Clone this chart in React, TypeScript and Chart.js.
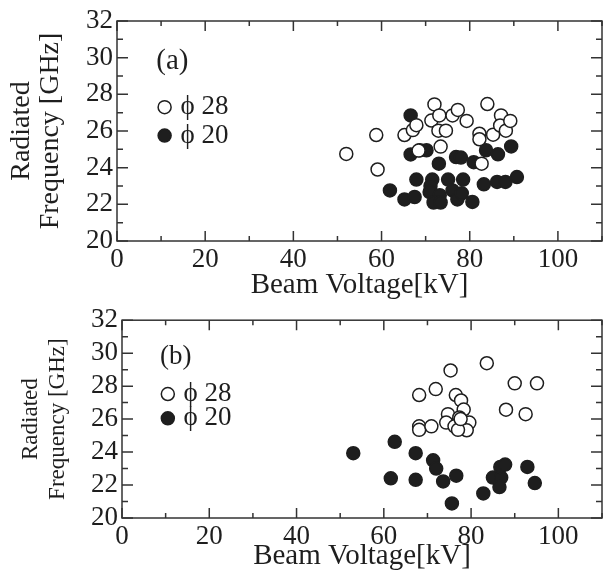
import { useEffect, useRef } from 'react';
import { Chart, registerables } from 'chart.js';

Chart.register(...registerables);

// ---- data ----
// Panel (a)
const phi28A_x = [52.0, 58.8, 59.1, 65.2, 67.1, 67.9, 68.4, 71.3, 72.0, 73.1, 72.9, 73.4, 74.6, 76.1, 77.3, 79.3, 82.2, 82.2, 82.7, 84.0, 85.3, 87.1, 86.9, 88.2, 89.2];
const phi28A_y = [24.75, 25.78, 23.9, 25.78, 26.05, 26.32, 24.93, 26.57, 27.45, 26.85, 26.02, 25.15, 26.02, 26.85, 27.15, 26.55, 25.85, 25.55, 24.22, 27.47, 25.8, 26.85, 26.3, 26.02, 26.55];
const phi20A_x = [66.6, 66.6, 68.7, 70.2, 73.0, 76.9, 78.0, 80.9, 83.7, 86.4, 89.4, 67.9, 71.5, 71.1, 75.1, 78.5, 83.2, 86.2, 88.1, 90.7, 61.9, 65.2, 67.5, 70.9, 73.2, 71.8, 73.4, 76.1, 77.2, 78.2, 80.6];
const phi20A_y = [26.85, 24.72, 24.95, 24.95, 24.22, 24.58, 24.55, 24.3, 24.95, 24.73, 25.16, 23.35, 23.35, 23.0, 23.35, 23.35, 23.09, 23.22, 23.22, 23.49, 22.76, 22.27, 22.4, 22.67, 22.5, 22.1, 22.1, 22.76, 22.27, 22.6, 22.13];
// Panel (b)
const phi28B_x = [75.3, 83.6, 90.0, 95.1, 71.9, 68.1, 76.5, 77.7, 78.3, 88.0, 92.5, 74.7, 77.3, 74.3, 79.6, 76.2, 79.0, 77.0, 68.1, 68.1, 70.9, 77.6];
const phi28B_y = [28.95, 29.39, 28.17, 28.17, 27.82, 27.46, 27.46, 27.13, 26.58, 26.57, 26.3, 26.3, 26.1, 25.79, 25.79, 25.56, 25.32, 25.35, 25.56, 25.35, 25.56, 26.0];
const phi20B_x = [53.0, 62.5, 67.3, 71.3, 72.0, 61.6, 67.3, 73.6, 76.6, 75.6, 82.8, 85.0, 86.9, 86.5, 86.7, 87.8, 92.9, 94.6];
const phi20B_y = [23.93, 24.62, 23.93, 23.5, 23.0, 22.41, 22.32, 22.22, 22.57, 20.88, 21.49, 22.45, 22.45, 21.88, 23.1, 23.24, 23.1, 22.12];

const seriesNames = ['ϕ 28', 'ϕ 20'];
const panelLabels = ['(a)', '(b)'];
const xTitle = 'Beam Voltage[kV]';
const yTitle = ['Radiated', 'Frequency [GHz]'];
const xMin = 0, xMax = 110, xStep = 20, xMinor = 10;
const yMin = 20, yMax = 32, yStep = 2, yMinor = 1;

const SERIF = '"Liberation Serif", "Times New Roman", serif';
const INK = '#1e1e1e';

const zip = (xs: number[], ys: number[]) => xs.map((x, i) => ({ x, y: ys[i] }));

const framePlugin = {
  id: 'frame',
  afterDraw(chart: any) {
    const { ctx, chartArea, scales } = chart;
    const { left, top, right, bottom } = chartArea;
    const x = scales.x, y = scales.y;
    ctx.save();
    ctx.strokeStyle = '#333';
    ctx.lineWidth = 1.5;
    ctx.strokeRect(left, top, right - left, bottom - top);
    ctx.beginPath();
    for (let v = xMin; v <= xMax; v += xMinor) {
      const px = x.getPixelForValue(v);
      const len = v % xStep === 0 ? 10 : 5;
      ctx.moveTo(px, bottom); ctx.lineTo(px, bottom - len);
      ctx.moveTo(px, top); ctx.lineTo(px, top + len);
    }
    for (let v = yMin; v <= yMax; v += yMinor) {
      const py = y.getPixelForValue(v);
      const len = v % yStep === 0 ? 11 : 6;
      ctx.moveTo(left, py); ctx.lineTo(left + len, py);
      ctx.moveTo(right, py); ctx.lineTo(right - len, py);
    }
    ctx.stroke();
    ctx.restore();
  },
};

const notePlugin = {
  id: 'note',
  afterDatasetsDraw(chart: any, _args: any, opts: any) {
    const { ctx, scales } = chart;
    const x = scales.x, y = scales.y;
    ctx.save();
    ctx.fillStyle = INK;
    ctx.textBaseline = 'middle';
    ctx.textAlign = 'left';
    ctx.font = `${opts.labelSize}px ${SERIF}`;
    ctx.fillText(opts.label, x.getPixelForValue(opts.labelAt[0]), y.getPixelForValue(opts.labelAt[1]));
    ctx.font = `${opts.legendSize}px ${SERIF}`;
    opts.legend.forEach((item: any) => {
      const cx = x.getPixelForValue(item.at[0]);
      const cy = y.getPixelForValue(item.at[1]);
      ctx.beginPath();
      ctx.arc(cx, cy, 6.5, 0, Math.PI * 2);
      ctx.fillStyle = item.filled ? INK : '#fff';
      ctx.fill();
      ctx.lineWidth = 1.5;
      ctx.strokeStyle = INK;
      ctx.stroke();
      ctx.fillStyle = INK;
      ctx.fillText(item.text, x.getPixelForValue(item.textX), cy);
    });
    ctx.restore();
  },
};

function makeConfig(p: any): any {
  return {
    type: 'scatter',
    data: {
      datasets: [
        {
          label: seriesNames[0],
          data: zip(p.ox, p.oy),
          backgroundColor: '#fff',
          borderColor: INK,
          borderWidth: 1.5,
          pointRadius: 6.5,
        },
        {
          label: seriesNames[1],
          data: zip(p.fx, p.fy),
          backgroundColor: INK,
          borderColor: INK,
          borderWidth: 1.5,
          pointRadius: 6.5,
        },
      ],
    },
    options: {
      animation: false,
      responsive: false,
      maintainAspectRatio: false,
      events: [],
      layout: { padding: { top: p.padTop, right: p.padRight, left: 0, bottom: 0 } },
      plugins: {
        legend: { display: false },
        tooltip: { enabled: false },
        note: p.note,
      },
      scales: {
        x: {
          type: 'linear',
          min: xMin,
          max: xMax,
          grid: { display: false, drawTicks: false },
          border: { display: false },
          ticks: {
            stepSize: xStep,
            includeBounds: false,
            autoSkip: false,
            maxRotation: 0,
            padding: p.xTickPad,
            color: INK,
            font: { family: SERIF, size: p.tickSize },
          },
          title: {
            display: true,
            text: xTitle,
            color: INK,
            padding: 0,
            font: { family: SERIF, size: p.xTitleSize, lineHeight: 1 },
          },
          afterFit: (s: any) => { s.height = p.xAxisH; },
        },
        y: {
          type: 'linear',
          min: yMin,
          max: yMax,
          grid: { display: false, drawTicks: false },
          border: { display: false },
          ticks: {
            stepSize: yStep,
            autoSkip: false,
            padding: 4,
            color: INK,
            font: { family: SERIF, size: p.tickSize },
          },
          title: {
            display: true,
            text: yTitle,
            color: INK,
            padding: { top: p.yTitlePad, bottom: 0 },
            font: { family: SERIF, size: p.yTitleSize, lineHeight: p.yTitleLH },
          },
          afterFit: (s: any) => { s.width = p.yAxisW; },
        },
      },
    },
    plugins: [framePlugin, notePlugin],
  };
}

const panelA = {
  ox: phi28A_x, oy: phi28A_y, fx: phi20A_x, fy: phi20A_y,
  padTop: 21, padRight: 2, xAxisH: 59, yAxisW: 117,
  tickSize: 27, xTickPad: 3, xTitleSize: 29, yTitleSize: 28, yTitleLH: 1.05, yTitlePad: 7,
  note: {
    label: panelLabels[0], labelAt: [8.9, 29.8], labelSize: 29, legendSize: 27,
    legend: [
      { at: [10.8, 27.3], text: seriesNames[0], textX: 14.4, filled: false },
      { at: [10.8, 25.75], text: seriesNames[1], textX: 14.4, filled: true },
    ],
  },
};

const panelB = {
  ox: phi28B_x, oy: phi28B_y, fx: phi20B_x, fy: phi20B_y,
  padTop: 14, padRight: 1, xAxisH: 53, yAxisW: 122,
  tickSize: 27, xTickPad: 3, xTitleSize: 29, yTitleSize: 23, yTitleLH: 1.17, yTitlePad: 17.5,
  note: {
    label: panelLabels[1], labelAt: [8.7, 29.8], labelSize: 27, legendSize: 27,
    legend: [
      { at: [10.5, 27.52], text: seriesNames[0], textX: 14.1, filled: false },
      { at: [10.5, 26.05], text: seriesNames[1], textX: 14.1, filled: true },
    ],
  },
};

function Panel({ cfg, top, height }: { cfg: any; top: number; height: number }) {
  const ref = useRef<HTMLCanvasElement | null>(null);
  useEffect(() => {
    if (!ref.current) return;
    const chart = new Chart(ref.current, makeConfig(cfg));
    return () => chart.destroy();
  }, [cfg]);
  return (
    <canvas
      ref={ref}
      width={610}
      height={height}
      style={{ position: 'absolute', left: 0, top, width: 610, height }}
    />
  );
}

export default function App() {
  return (
    <div style={{ position: 'absolute', left: 0, top: 0, width: 610, height: 571, background: '#fff' }}>
      <Panel cfg={panelA} top={0} height={300} />
      <Panel cfg={panelB} top={300} height={271} />
    </div>
  );
}
